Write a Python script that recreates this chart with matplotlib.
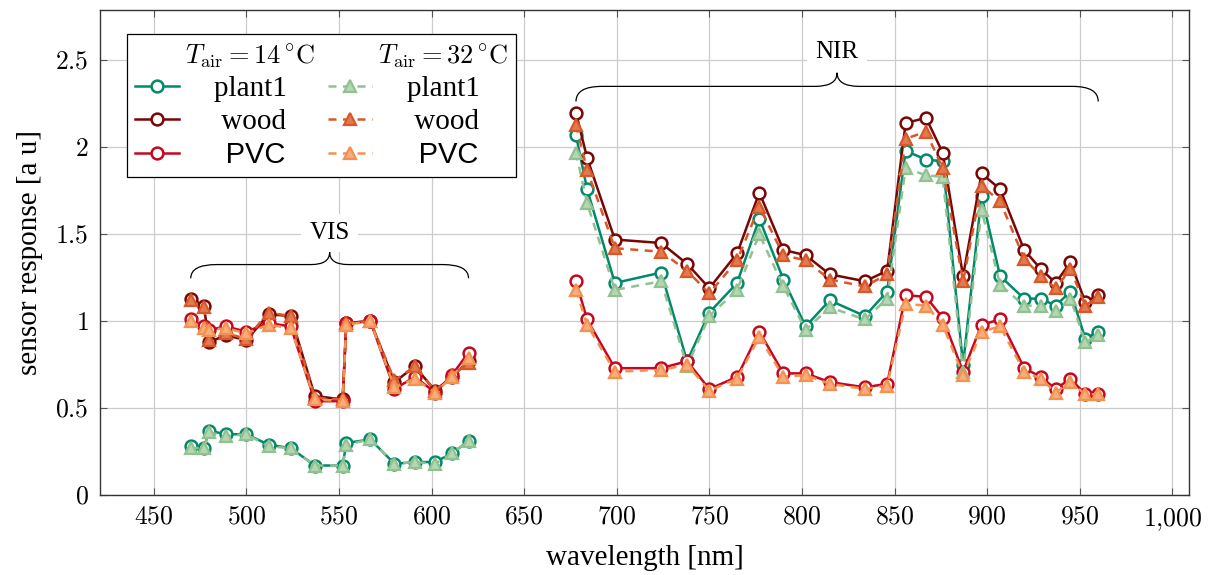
import matplotlib
matplotlib.use("Agg")
import matplotlib.pyplot as plt
from matplotlib.lines import Line2D
from matplotlib.path import Path
from matplotlib.patches import PathPatch
from matplotlib.ticker import FuncFormatter, MultipleLocator

plt.rcParams['font.family'] = ['Liberation Serif', 'DejaVu Serif']
plt.rcParams['mathtext.fontset'] = 'cm'

# wavelengths of the two sensors
wl_vis = [470, 477, 480, 489, 500, 512, 524, 537, 552, 554, 567, 580, 591, 602, 611, 620]
wl_nir = [678, 684, 699, 724, 738, 750, 765, 777, 790, 802, 815, 834, 846,
          856, 867, 876, 887, 897, 907, 920, 929, 937, 945, 953, 960]

# T_air = 14 °C
plant1_14_vis = [0.28, 0.27, 0.37, 0.35, 0.35, 0.29, 0.27, 0.17, 0.17, 0.30, 0.32, 0.18, 0.19, 0.19, 0.24, 0.31]
wood_14_vis = [1.13, 1.09, 0.88, 0.92, 0.89, 1.04, 1.03, 0.57, 0.55, 0.99, 1.00, 0.65, 0.74, 0.60, 0.68, 0.77]
pvc_14_vis = [1.01, 0.97, 0.95, 0.97, 0.94, 0.99, 0.97, 0.54, 0.54, 0.99, 1.00, 0.61, 0.68, 0.59, 0.69, 0.82]
plant1_14_nir = [2.07, 1.76, 1.22, 1.28, 0.77, 1.05, 1.22, 1.59, 1.24, 0.97, 1.12, 1.03, 1.17,
                 1.98, 1.93, 1.92, 0.75, 1.72, 1.26, 1.13, 1.13, 1.09, 1.17, 0.90, 0.94]
wood_14_nir = [2.20, 1.94, 1.47, 1.45, 1.33, 1.19, 1.39, 1.74, 1.41, 1.38, 1.27, 1.23, 1.29,
               2.14, 2.17, 1.97, 1.26, 1.85, 1.76, 1.41, 1.30, 1.22, 1.34, 1.11, 1.15]
pvc_14_nir = [1.23, 1.01, 0.73, 0.73, 0.77, 0.61, 0.68, 0.94, 0.70, 0.70, 0.65, 0.62, 0.64,
              1.15, 1.14, 1.02, 0.71, 0.98, 1.01, 0.73, 0.68, 0.61, 0.67, 0.58, 0.58]

# T_air = 32 °C
plant1_32_vis = [0.27, 0.27, 0.36, 0.34, 0.35, 0.28, 0.27, 0.17, 0.17, 0.29, 0.32, 0.18, 0.19, 0.18, 0.24, 0.31]
wood_32_vis = [1.12, 1.08, 0.89, 0.93, 0.90, 1.05, 1.03, 0.56, 0.55, 0.99, 1.00, 0.66, 0.74, 0.60, 0.69, 0.76]
pvc_32_vis = [1.00, 0.96, 0.95, 0.96, 0.93, 0.98, 0.96, 0.55, 0.54, 0.98, 1.00, 0.62, 0.67, 0.59, 0.68, 0.79]
plant1_32_nir = [1.97, 1.68, 1.18, 1.23, 0.74, 1.03, 1.18, 1.50, 1.20, 0.95, 1.08, 1.01, 1.13,
                 1.88, 1.84, 1.83, 0.71, 1.64, 1.21, 1.09, 1.09, 1.06, 1.13, 0.88, 0.92]
wood_32_nir = [2.13, 1.87, 1.42, 1.40, 1.29, 1.16, 1.35, 1.66, 1.38, 1.35, 1.24, 1.20, 1.27,
               2.05, 2.09, 1.88, 1.23, 1.78, 1.69, 1.36, 1.26, 1.19, 1.30, 1.09, 1.14]
pvc_32_nir = [1.18, 0.98, 0.71, 0.72, 0.75, 0.60, 0.67, 0.91, 0.68, 0.69, 0.64, 0.61, 0.63,
              1.10, 1.09, 0.98, 0.69, 0.94, 0.97, 0.71, 0.67, 0.59, 0.65, 0.58, 0.58]

materials = ['plant1', 'wood', 'PVC']
colors_14 = ['#008a6a', '#7a0505', '#c6071f']
colors_32 = ['#92c191', '#d8582a', '#f3914f']
faces_32 = ['#b4d6b2', '#e27a50', '#f7ad7c']

series_14 = [(plant1_14_vis, plant1_14_nir), (wood_14_vis, wood_14_nir), (pvc_14_vis, pvc_14_nir)]
series_32 = [(plant1_32_vis, plant1_32_nir), (wood_32_vis, wood_32_nir), (pvc_32_vis, pvc_32_nir)]

fig = plt.figure(figsize=(12.15, 5.75), dpi=100)
ax = fig.add_axes([0.0823, 0.139, 0.8963, 0.8435])

h14 = []
for (vis, nir), c in zip(series_14, colors_14):
    for wl, vals in [(wl_vis, vis), (wl_nir, nir)]:
        ln, = ax.plot(wl, vals, color=c, lw=1.8, marker='o', ms=8.5, mew=1.8,
                      mfc='white', mec=c, zorder=3)
    h14.append(ln)

h32 = []
for (vis, nir), c, fc in zip(series_32, colors_32, faces_32):
    for wl, vals in [(wl_vis, vis), (wl_nir, nir)]:
        ln, = ax.plot(wl, vals, color=c, lw=1.8, ls=(0, (3.2, 2.6)), marker='^', ms=8.5,
                      mew=1.6, mfc=fc, mec=c, zorder=4)
    h32.append(ln)


def brace(x0, x1, yb, h, dx, dxm):
    xm = (x0 + x1) / 2
    ym, yt = yb + h, yb + 1.9 * h
    verts = [(x0, yb), (x0, ym), (x0 + dx, ym),
             (xm - dxm, ym), (xm, ym), (xm, yt),
             (xm, ym), (xm + dxm, ym),
             (x1 - dx, ym), (x1, ym), (x1, yb)]
    codes = [Path.MOVETO, Path.CURVE3, Path.CURVE3,
             Path.LINETO, Path.CURVE3, Path.CURVE3,
             Path.CURVE3, Path.CURVE3,
             Path.LINETO, Path.CURVE3, Path.CURVE3]
    ax.add_patch(PathPatch(Path(verts, codes), fill=False, lw=0.9, color='black', zorder=5))
    return xm, yt


xm, yt = brace(wl_vis[0], wl_vis[-1], 1.247, 0.079, 14, 10)
ax.text(xm, yt + 0.11, 'VIS', ha='center', va='center', fontsize=18,
        bbox=dict(facecolor='white', edgecolor='none', pad=6), zorder=5)
xm, yt = brace(wl_nir[0], wl_nir[-1], 2.264, 0.087, 14, 12)
ax.text(xm, yt + 0.12, 'NIR', ha='center', va='center', fontsize=18,
        bbox=dict(facecolor='white', edgecolor='none', pad=6), zorder=5)

ax.set_xlim(421, 1009)
ax.set_ylim(0, 2.79)
ax.xaxis.set_major_locator(MultipleLocator(50))
ax.yaxis.set_major_locator(MultipleLocator(0.5))
ax.xaxis.set_major_formatter(FuncFormatter(
    lambda v, p: '$1{,}000$' if v == 1000 else f'${v:g}$'))
ax.yaxis.set_major_formatter(FuncFormatter(lambda v, p: f'${v:g}$'))
ax.tick_params(direction='in', top=True, right=True, length=5, width=0.8,
               color='#555555', labelsize=18.5, pad=8)
ax.grid(True, color='#cccccc', lw=0.9)
ax.set_axisbelow(True)
for s in ax.spines.values():
    s.set_color('#333333')
    s.set_linewidth(1.0)

ax.set_xlabel('wavelength [nm]', fontsize=21, labelpad=9)
ax.set_ylabel('sensor response [a u]', fontsize=21, labelpad=9)

blank = Line2D([], [], color='none')
handles = [blank] + h14 + [blank] + h32
labels = [r'$T_{\mathrm{air}} = 14\,^{\circ}\mathrm{C}$', '    plant1', '     wood', '     PVC',
          r'$T_{\mathrm{air}} = 32\,^{\circ}\mathrm{C}$', '    plant1', '     wood', '     PVC']
leg = ax.legend(handles, labels, ncol=2, loc='upper left', bbox_to_anchor=(0.0248, 0.9505),
                fontsize=21, frameon=True, fancybox=False, edgecolor='black',
                framealpha=1, handlelength=1.5, handletextpad=0.2, columnspacing=0.45,
                labelspacing=0.21, borderpad=0.28, borderaxespad=0)
leg.get_frame().set_linewidth(0.9)
for i in (0, 4):
    leg.get_texts()[i].set_fontsize(19)
for i in (3, 7):
    leg.get_texts()[i].set_fontfamily(['Liberation Sans', 'DejaVu Sans'])

fig.savefig('out.png', dpi=100)
